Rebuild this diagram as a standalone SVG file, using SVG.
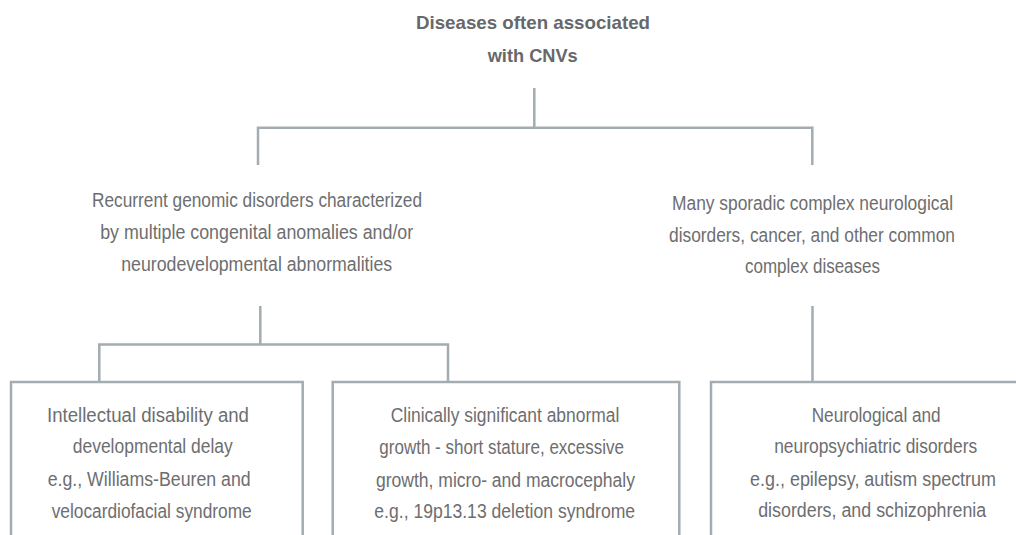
<svg xmlns="http://www.w3.org/2000/svg" width="1016" height="535" viewBox="0 0 1016 535">
<style>
.t{font-family:"Liberation Sans",Arial,sans-serif;font-size:19.5px;fill:#6d6e70;text-anchor:middle}
.b{font-weight:bold;fill:#67686a;font-size:19px}
.ln{fill:none;stroke:#a2acb1;stroke-width:2.5;stroke-linejoin:miter;stroke-linecap:butt}
</style>
<rect width="1016" height="535" fill="#ffffff"/>
<g id="connectors">
<path class="ln" d="M534.3 88V127.7M258 165V127.7H812.3V165"/>
<path class="ln" d="M260.3 306V344.5M99.3 382V344.5H448V382"/>
<path class="ln" d="M812.5 306V382"/>
</g>
<g id="root">
<text class="t b" x="533" y="29.3" textLength="234" lengthAdjust="spacingAndGlyphs">Diseases often associated</text>
<text class="t b" x="532.7" y="61.7" textLength="90" lengthAdjust="spacingAndGlyphs">with CNVs</text>
</g>
<g id="recurrent">
<text class="t" x="257" y="206.7" textLength="330" lengthAdjust="spacingAndGlyphs">Recurrent genomic disorders characterized</text>
<text class="t" x="256.7" y="239" textLength="313" lengthAdjust="spacingAndGlyphs">by multiple congenital anomalies and/or</text>
<text class="t" x="256.7" y="271" textLength="271" lengthAdjust="spacingAndGlyphs">neurodevelopmental abnormalities</text>
</g>
<g id="sporadic">
<text class="t" x="812.5" y="210" textLength="281" lengthAdjust="spacingAndGlyphs">Many sporadic complex neurological</text>
<text class="t" x="812" y="241.7" textLength="286" lengthAdjust="spacingAndGlyphs">disorders, cancer, and other common</text>
<text class="t" x="812.5" y="273.3" textLength="135" lengthAdjust="spacingAndGlyphs">complex diseases</text>
</g>
<g id="intellectual">
<rect class="ln" x="11" y="382" width="291.7" height="180"/>
<text class="t" x="148" y="421.7" textLength="202" lengthAdjust="spacingAndGlyphs">Intellectual disability and</text>
<text class="t" x="152.8" y="453.3" textLength="160" lengthAdjust="spacingAndGlyphs">developmental delay</text>
<text class="t" x="149.2" y="485.7" textLength="203" lengthAdjust="spacingAndGlyphs">e.g., Williams-Beuren and</text>
<text class="t" x="151.7" y="517.7" textLength="200" lengthAdjust="spacingAndGlyphs">velocardiofacial syndrome</text>
</g>
<g id="growth">
<rect class="ln" x="332.7" y="382" width="346.6" height="180"/>
<text class="t" x="505" y="422.3" textLength="228.6" lengthAdjust="spacingAndGlyphs">Clinically significant abnormal</text>
<text class="t" x="501.7" y="454.3" textLength="244.7" lengthAdjust="spacingAndGlyphs">growth - short stature, excessive</text>
<text class="t" x="505.5" y="486.7" textLength="259" lengthAdjust="spacingAndGlyphs">growth, micro- and macrocephaly</text>
<text class="t" x="504.7" y="518.3" textLength="260.7" lengthAdjust="spacingAndGlyphs">e.g., 19p13.13 deletion syndrome</text>
</g>
<g id="neurological">
<rect class="ln" x="711" y="382" width="330" height="180"/>
<text class="t" x="876.2" y="421.7" textLength="129" lengthAdjust="spacingAndGlyphs">Neurological and</text>
<text class="t" x="875.7" y="453.3" textLength="203" lengthAdjust="spacingAndGlyphs">neuropsychiatric disorders</text>
<text class="t" x="873" y="485.7" textLength="246" lengthAdjust="spacingAndGlyphs">e.g., epilepsy, autism spectrum</text>
<text class="t" x="872.2" y="516.7" textLength="228" lengthAdjust="spacingAndGlyphs">disorders, and schizophrenia</text>
</g>
</svg>
